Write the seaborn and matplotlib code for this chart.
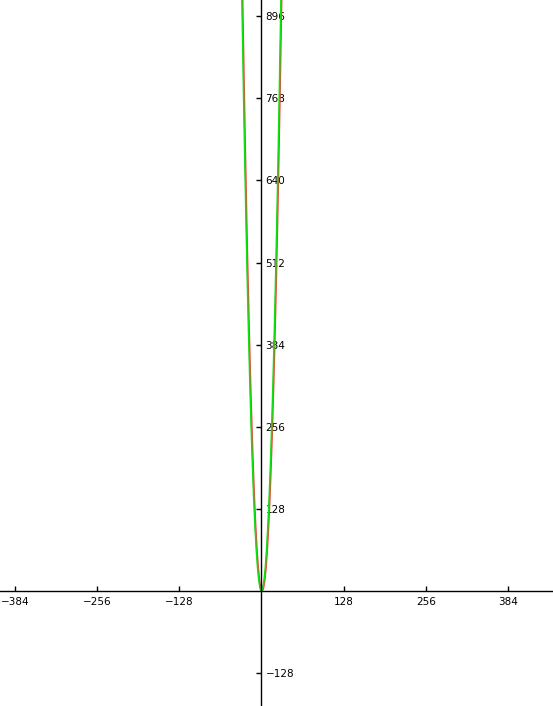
"""Two overlapping parabola traces on origin-centred axes."""

import matplotlib

matplotlib.use("Agg")
import matplotlib.pyplot as plt
import pandas as pd
import seaborn as sns

# points (both branches reach the top edge near |x| ~ 31)
GREEN_X = [-32, -30, -28, -26, -24, -22, -20, -18, -16, -14, -12, -10, -8, -6, -4, -2,
           0, 2, 4, 6, 8, 10, 12, 14, 16, 18, 20, 22, 24, 26, 28, 30, 32]
GREEN_Y = [1024, 900, 784, 676, 576, 484, 400, 324, 256, 196, 144, 100, 64, 36, 16, 4,
           0, 4, 16, 36, 64, 100, 144, 196, 256, 324, 400, 484, 576, 676, 784, 900, 1024]
# the red trace sits a hair to the right of the green one
RED_X = [-31, -29, -27, -25, -23, -21, -19, -17, -15, -13, -11, -9, -7, -5, -3, -1,
         1, 3, 5, 7, 9, 11, 13, 15, 17, 19, 21, 23, 25, 27, 29, 31, 33]
RED_Y = GREEN_Y
X_TICKS = [-384, -256, -128, 128, 256, 384]
Y_TICKS = [-128, 128, 256, 384, 512, 640, 768, 896]
X_TICK_LABELS = ["\u2212384", "\u2212256", "\u2212128", "128", "256", "384"]
Y_TICK_LABELS = ["\u2212128", "128", "256", "384", "512", "640", "768", "896"]

X_LIM = (-407, 454)
Y_LIM = (-179, 921)


def main() -> None:
    sns.set_style("white")
    plt.rcParams["font.family"] = ["DejaVu Sans"]

    red = pd.DataFrame({"x": RED_X, "y": RED_Y})
    green = pd.DataFrame({"x": GREEN_X, "y": GREEN_Y})

    fig = plt.figure(figsize=(5.53, 7.06), dpi=100)
    ax = fig.add_axes([0, 0, 1, 1])

    sns.lineplot(data=red, x="x", y="y", ax=ax, sort=False, estimator=None,
                 color="#e8483c", linewidth=1.3)
    sns.lineplot(data=green, x="x", y="y", ax=ax, sort=False, estimator=None,
                 color="#10e010", linewidth=1.1)

    ax.set_xlim(*X_LIM)
    ax.set_ylim(*Y_LIM)
    ax.set_xlabel("")
    ax.set_ylabel("")

    # axes through the origin
    for side in ("top", "left"):
        ax.spines[side].set_visible(False)
    ax.spines["bottom"].set_position(("data", 0))
    ax.spines["right"].set_position(("data", 0))
    for side in ("bottom", "right"):
        ax.spines[side].set_color("black")
        ax.spines[side].set_linewidth(1.0)

    ax.xaxis.set_ticks_position("bottom")
    ax.yaxis.set_ticks_position("right")
    ax.set_xticks(X_TICKS)
    ax.set_xticklabels(X_TICK_LABELS)
    ax.set_yticks(Y_TICKS)
    ax.set_yticklabels(Y_TICK_LABELS)
    ax.tick_params(axis="x", direction="in", length=3.5, width=1, pad=4,
                   labelsize=7.5, colors="black")
    ax.tick_params(axis="y", direction="in", length=3.5, width=1, pad=3,
                   labelsize=7.5, colors="black")
    ax.grid(False)

    fig.savefig("out.png", dpi=100)


if __name__ == "__main__":
    main()
